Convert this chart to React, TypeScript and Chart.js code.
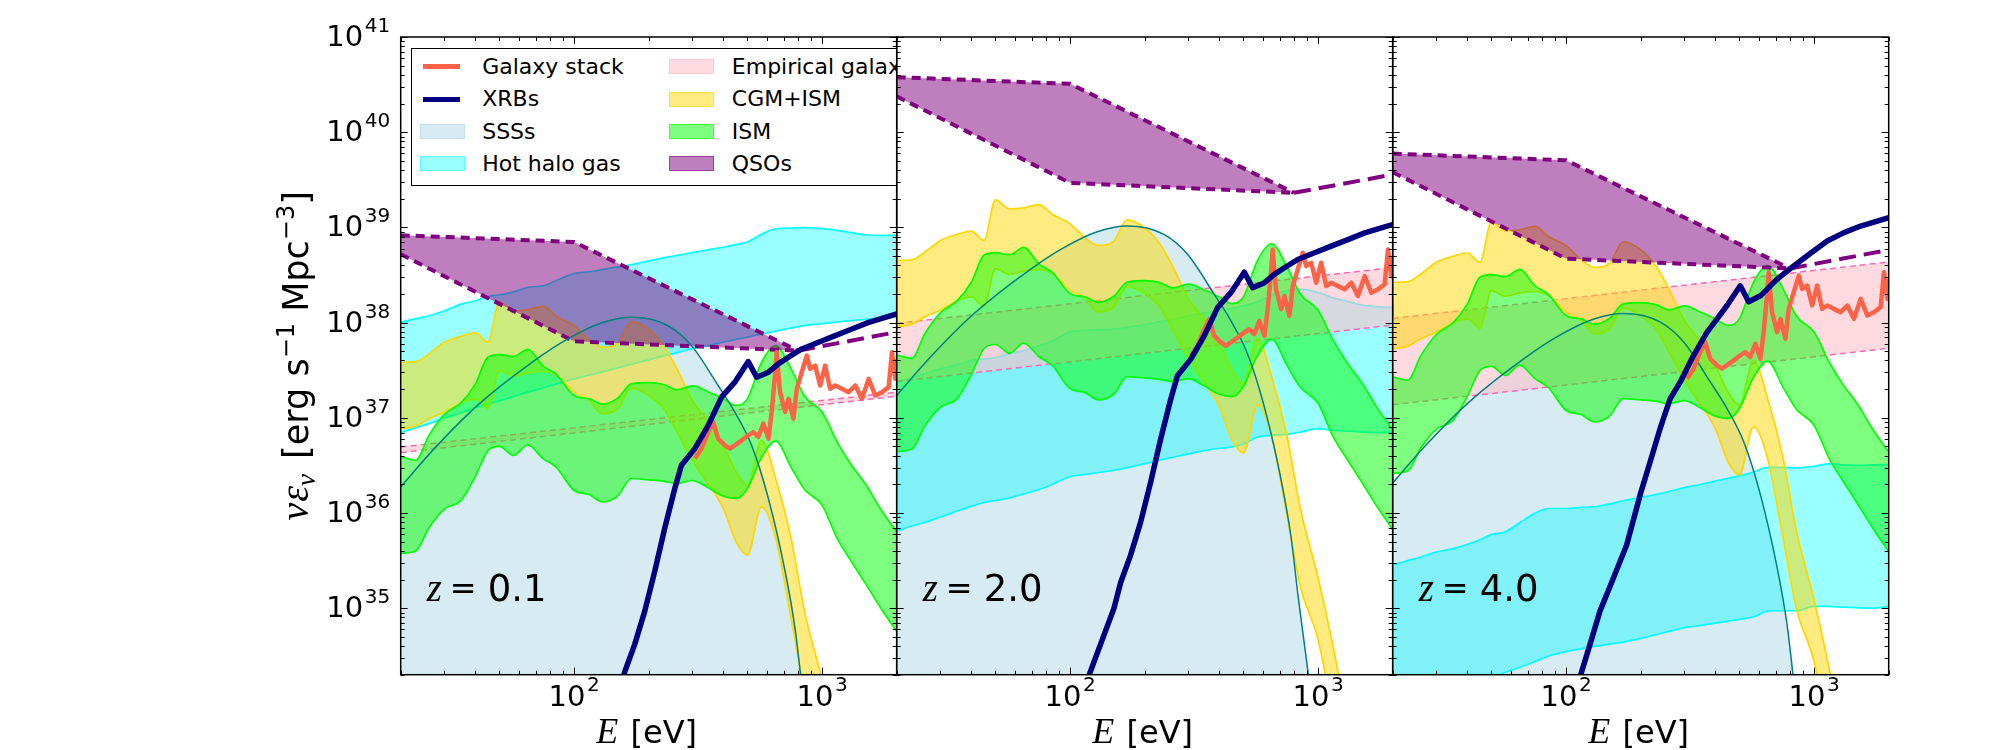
import React, { useEffect, useRef } from "react";
import { Chart, registerables } from "chart.js";

Chart.register(...registerables);

// ---------------- data (values are log10 of nu*eps_nu in erg s^-1 Mpc^-3) ----------------
const E_GRID = [20, 23, 26, 30, 35, 40, 45, 50, 57, 65, 75, 85, 100, 115, 130, 150, 170, 200, 230, 260, 300, 350, 400, 450, 500, 570, 650, 750, 850, 1000, 1150, 1300, 1500, 1750, 2000];

// Hot halo gas
const hotHi01 = [38.002, 38.041, 38.072, 38.124, 38.194, 38.229, 38.274, 38.292, 38.323, 38.369, 38.386, 38.445, 38.515, 38.533, 38.557, 38.585, 38.609, 38.648, 38.679, 38.707, 38.735, 38.767, 38.791, 38.819, 38.847, 38.927, 38.986, 38.993, 38.997, 38.986, 38.969, 38.945, 38.92, 38.917, 38.917];
const hotLo01 = [36.843, 36.896, 36.938, 36.997, 37.053, 37.105, 37.143, 37.178, 37.224, 37.269, 37.315, 37.356, 37.409, 37.447, 37.482, 37.524, 37.562, 37.608, 37.65, 37.684, 37.726, 37.761, 37.796, 37.824, 37.848, 37.88, 37.911, 37.943, 37.971, 37.988, 38.006, 38.02, 38.034, 38.051, 38.065];
const hotHi20 = [37.374, 37.423, 37.461, 37.514, 37.555, 37.601, 37.618, 37.632, 37.671, 37.705, 37.758, 37.807, 37.904, 37.918, 37.925, 37.932, 37.95, 37.977, 38.009, 38.03, 38.072, 38.1, 38.124, 38.149, 38.177, 38.219, 38.288, 38.337, 38.351, 38.316, 38.26, 38.226, 38.184, 38.166, 38.159];
const hotLo20 = [35.81, 35.863, 35.901, 35.957, 36.02, 36.072, 36.11, 36.131, 36.159, 36.201, 36.247, 36.302, 36.383, 36.404, 36.425, 36.449, 36.477, 36.519, 36.557, 36.585, 36.62, 36.658, 36.679, 36.693, 36.725, 36.798, 36.815, 36.826, 36.85, 36.885, 36.868, 36.861, 36.85, 36.843, 36.85];
const hotHi40 = [35.454, 35.5, 35.538, 35.59, 35.625, 35.671, 35.719, 35.772, 35.803, 35.897, 35.999, 36.047, 36.047, 36.058, 36.065, 36.096, 36.128, 36.163, 36.194, 36.226, 36.267, 36.302, 36.337, 36.365, 36.389, 36.431, 36.48, 36.48, 36.473, 36.491, 36.515, 36.505, 36.501, 36.505, 36.508];
const hotLo40 = [33.883, 33.943, 33.988, 34.055, 34.121, 34.177, 34.226, 34.271, 34.327, 34.379, 34.442, 34.498, 34.543, 34.575, 34.599, 34.623, 34.644, 34.683, 34.721, 34.756, 34.795, 34.819, 34.843, 34.864, 34.882, 34.91, 34.969, 34.973, 34.973, 35.018, 35.018, 35.011, 35.004, 35.0, 35.018];

// CGM+ISM
const cgmHi01 = [37.583, 37.59, 37.671, 37.793, 37.856, 37.891, 37.793, 38.219, 38.124, 38.135, 38.17, 38.065, 37.967, 37.821, 37.74, 37.786, 38.009, 37.925, 37.758, 37.514, 37.182, 36.955, 36.711, 36.431, 36.292, 36.763, 36.362, 35.733, 34.966, 34.25, 33.53, 32.8, 32, 31, 30];
const cgmLo01 = [36.885, 36.913, 36.99, 37.06, 37.157, 37.199, 37.102, 37.496, 37.437, 37.472, 37.486, 37.444, 37.269, 37.182, 37.042, 37.095, 37.311, 37.234, 37.095, 36.85, 36.554, 36.292, 36.047, 35.698, 35.559, 36.065, 35.733, 34.896, 34.15, 33.6, 32.8, 32, 31, 30, 29];
const cgmHi20 = [38.653, 38.66, 38.741, 38.863, 38.926, 38.961, 38.863, 39.289, 39.194, 39.205, 39.24, 39.135, 39.037, 38.891, 38.81, 38.856, 39.079, 38.995, 38.828, 38.584, 38.252, 38.025, 37.781, 37.501, 37.362, 37.833, 37.432, 36.803, 36.036, 35.32, 34.6, 33.87, 33.07, 32.07, 31.07];
const cgmLo20 = [37.955, 37.983, 38.06, 38.13, 38.227, 38.269, 38.172, 38.566, 38.507, 38.542, 38.556, 38.514, 38.339, 38.252, 38.112, 38.165, 38.381, 38.304, 38.165, 37.92, 37.624, 37.362, 37.117, 36.768, 36.629, 37.135, 36.803, 35.966, 35.22, 34.67, 33.87, 33.07, 32.07, 31.07, 30.07];
const cgmHi40 = [38.423, 38.43, 38.511, 38.633, 38.696, 38.731, 38.633, 39.059, 38.964, 38.975, 39.01, 38.905, 38.807, 38.661, 38.58, 38.626, 38.849, 38.765, 38.598, 38.354, 38.022, 37.795, 37.551, 37.271, 37.132, 37.603, 37.202, 36.573, 35.806, 35.09, 34.37, 33.64, 32.84, 31.84, 30.84];
const cgmLo40 = [37.725, 37.753, 37.83, 37.9, 37.997, 38.039, 37.942, 38.336, 38.277, 38.312, 38.326, 38.284, 38.109, 38.022, 37.882, 37.935, 38.151, 38.074, 37.935, 37.69, 37.394, 37.132, 36.887, 36.538, 36.399, 36.905, 36.573, 35.736, 34.99, 34.44, 33.64, 32.84, 31.84, 30.84, 29.84];

// ISM
const ismHi01 = [36.589, 36.554, 36.815, 37.035, 37.157, 37.356, 37.639, 37.664, 37.643, 37.719, 37.545, 37.454, 37.234, 37.199, 37.143, 37.206, 37.356, 37.37, 37.349, 37.294, 37.335, 37.269, 37.199, 37.13, 37.199, 37.583, 37.758, 37.514, 37.227, 37.06, 36.746, 36.519, 36.299, 36.013, 35.803];
const ismLo01 = [35.576, 35.601, 35.845, 36.041, 36.131, 36.386, 36.658, 36.7, 36.606, 36.714, 36.571, 36.477, 36.236, 36.194, 36.117, 36.18, 36.362, 36.348, 36.334, 36.309, 36.341, 36.26, 36.177, 36.152, 36.257, 36.585, 36.756, 36.48, 36.247, 36.082, 35.733, 35.507, 35.255, 34.976, 34.756];
const ismHi20 = [37.659, 37.624, 37.885, 38.105, 38.227, 38.426, 38.709, 38.734, 38.713, 38.789, 38.615, 38.524, 38.304, 38.269, 38.213, 38.276, 38.426, 38.44, 38.419, 38.364, 38.405, 38.339, 38.269, 38.2, 38.269, 38.653, 38.828, 38.584, 38.297, 38.13, 37.816, 37.589, 37.369, 37.083, 36.873];
const ismLo20 = [36.646, 36.671, 36.915, 37.111, 37.201, 37.456, 37.728, 37.77, 37.676, 37.784, 37.641, 37.547, 37.306, 37.264, 37.187, 37.25, 37.432, 37.418, 37.404, 37.379, 37.411, 37.33, 37.247, 37.222, 37.327, 37.655, 37.826, 37.55, 37.317, 37.152, 36.803, 36.577, 36.325, 36.046, 35.826];
const ismHi40 = [37.429, 37.394, 37.655, 37.875, 37.997, 38.196, 38.479, 38.504, 38.483, 38.559, 38.385, 38.294, 38.074, 38.039, 37.983, 38.046, 38.196, 38.21, 38.189, 38.134, 38.175, 38.109, 38.039, 37.97, 38.039, 38.423, 38.598, 38.354, 38.067, 37.9, 37.586, 37.359, 37.139, 36.853, 36.643];
const ismLo40 = [36.416, 36.441, 36.685, 36.881, 36.971, 37.226, 37.498, 37.54, 37.446, 37.554, 37.411, 37.317, 37.076, 37.034, 36.957, 37.02, 37.202, 37.188, 37.174, 37.149, 37.181, 37.1, 37.017, 36.992, 37.097, 37.425, 37.596, 37.32, 37.087, 36.922, 36.573, 36.347, 36.095, 35.816, 35.596];

// Empirical galaxy
const EMP_E = [20, 2000];
const empHi01 = [36.693, 37.269];
const empLo01 = [36.634, 37.227];
const empHi20 = [37.992, 38.578];
const empLo20 = [37.381, 37.974];
const empHi40 = [38.044, 38.637];
const empLo40 = [37.137, 37.73];

// QSOs
const QSO_E = [20, 100, 800];
const QSO_EXT_E = [800, 2000];
const qsoHi01 = [38.917, 38.847, 37.705];
const qsoLo01 = [38.718, 37.803, 37.705];
const qsoExt01 = [37.705, 37.9];
const qsoHi20 = [40.578, 40.508, 39.363];
const qsoLo20 = [40.376, 39.468, 39.363];
const qsoExt20 = [39.363, 39.555];
const qsoHi40 = [39.775, 39.705, 38.568];
const qsoLo40 = [39.58, 38.672, 38.568];
const qsoExt40 = [38.568, 38.763];

// SSSs
const SSS_E = [20, 27.3, 40.8, 69.2, 94.4, 128.7, 170, 239, 297.6, 381, 445, 520, 608, 710, 778, 828, 938, 1062];
const sss01 = [36.275, 36.676, 37.13, 37.6, 37.828, 37.995, 38.055, 37.967, 37.758, 37.339, 37.06, 36.71, 36.15, 35.385, 34.79, 34.2, 33.1, 31.8];
const sss20 = [37.235, 37.636, 38.09, 38.56, 38.788, 38.955, 39.015, 38.927, 38.718, 38.299, 38.02, 37.67, 37.11, 36.345, 35.75, 35.16, 34.06, 32.76];
const sss40 = [36.315, 36.716, 37.17, 37.64, 37.868, 38.035, 38.095, 38.007, 37.798, 37.379, 37.1, 36.75, 36.19, 35.425, 34.83, 34.24, 33.14, 31.84];

// XRBs
const XRB_E = [113.7, 150.3, 160, 175.5, 192.7, 211.4, 232, 254.8, 271, 307, 347.6, 393.4, 445, 504, 545, 608, 666, 732, 828, 968, 1130, 1320, 1542, 1799, 2000];
const xrb01 = [33.21, 34.058, 34.33, 34.617, 34.966, 35.384, 35.838, 36.257, 36.501, 36.676, 36.92, 37.217, 37.374, 37.59, 37.426, 37.479, 37.566, 37.636, 37.723, 37.793, 37.863, 37.932, 38.002, 38.055, 38.09];
const xrb20 = [34.15, 34.998, 35.27, 35.557, 35.906, 36.324, 36.778, 37.197, 37.441, 37.616, 37.86, 38.157, 38.314, 38.53, 38.366, 38.419, 38.506, 38.576, 38.663, 38.733, 38.803, 38.872, 38.942, 38.995, 39.03];
const XRB_E40 = [106.9, 115.5, 124.8, 136.9, 155.1, 175.5, 198.8, 218.2, 239.4, 262.8, 288.4, 326.6, 369.8, 405.8, 445, 504, 545, 608, 710, 828, 968, 1130, 1320, 1542, 2000];
const xrb40 = [34.023, 34.33, 34.617, 34.966, 35.315, 35.664, 36.187, 36.536, 36.885, 37.199, 37.374, 37.653, 37.897, 38.037, 38.177, 38.386, 38.219, 38.281, 38.456, 38.595, 38.728, 38.857, 38.945, 39.014, 39.102];

// Galaxy stack
const STACK_E = [307, 326.6, 347.6, 364, 381, 405.8, 425, 445, 474, 504, 528, 553, 580, 608, 626.6, 646, 656, 677, 710, 732, 766.6, 790.8, 828, 868, 895, 938, 982.6, 1029, 1078, 1130, 1202, 1279, 1362, 1448, 1542, 1639, 1744, 1856, 1914, 1975, 2000];
const stack01 = [36.571, 36.676, 36.85, 36.955, 36.781, 36.711, 36.676, 36.711, 36.763, 36.816, 36.85, 36.798, 36.938, 36.781, 37.06, 37.444, 37.688, 37.269, 37.06, 37.199, 36.99, 37.304, 37.479, 37.653, 37.514, 37.548, 37.339, 37.548, 37.304, 37.339, 37.304, 37.269, 37.339, 37.199, 37.409, 37.234, 37.269, 37.322, 37.688, 37.409, 37.618];
const stack20 = [37.651, 37.756, 37.93, 38.035, 37.861, 37.791, 37.756, 37.791, 37.843, 37.896, 37.93, 37.878, 38.018, 37.861, 38.14, 38.524, 38.768, 38.349, 38.14, 38.279, 38.07, 38.384, 38.559, 38.733, 38.594, 38.628, 38.419, 38.628, 38.384, 38.419, 38.384, 38.349, 38.419, 38.279, 38.489, 38.314, 38.349, 38.402, 38.768, 38.489, 38.698];
const stack40 = [37.411, 37.516, 37.69, 37.795, 37.621, 37.551, 37.516, 37.551, 37.603, 37.656, 37.69, 37.638, 37.778, 37.621, 37.9, 38.284, 38.528, 38.109, 37.9, 38.039, 37.83, 38.144, 38.319, 38.493, 38.354, 38.388, 38.179, 38.388, 38.144, 38.179, 38.144, 38.109, 38.179, 38.039, 38.249, 38.074, 38.109, 38.162, 38.528, 38.249, 38.458];

const X_TICKS = [100, 1000];
const Y_TICK_EXPS = [35, 36, 37, 38, 39, 40, 41];
const Z_LABELS = ["0.1", "2.0", "4.0"];
const LEGEND_ROWS = [
  ["Galaxy stack", "Empirical galaxy"],
  ["XRBs", "CGM+ISM"],
  ["SSSs", "ISM"],
  ["Hot halo gas", "QSOs"],
];

// ---------------- styling / layout ----------------
const C = {
  stack: "#ff6347",
  xrb: "#000080",
  sssFill: "rgba(173,216,230,0.5)",
  sssLine: "#008080",
  hotFill: "rgba(0,255,255,0.4)",
  hotLine: "#00ffff",
  empFill: "rgba(255,192,203,0.6)",
  empLine: "#ff69b4",
  cgmFill: "rgba(255,215,0,0.5)",
  cgmLine: "#ffd700",
  ismFill: "rgba(0,255,0,0.5)",
  ismLine: "#00ff00",
  qsoFill: "rgba(128,0,128,0.5)",
  qsoLine: "#800080",
};

const TOP = 37;
const BOTTOM = 674.7;
const PANEL_EDGES = [400.7, 896.7, 1392.7, 1888.7];
const SANS = '"DejaVu Sans", sans-serif';
const MATH = '"Liberation Serif", "DejaVu Serif", serif';

const PANELS = [
  { z: Z_LABELS[0], hotHi: hotHi01, hotLo: hotLo01, cgmHi: cgmHi01, cgmLo: cgmLo01, ismHi: ismHi01, ismLo: ismLo01, empHi: empHi01, empLo: empLo01, qsoHi: qsoHi01, qsoLo: qsoLo01, qsoExt: qsoExt01, sss: sss01, xrbE: XRB_E, xrb: xrb01, stack: stack01 },
  { z: Z_LABELS[1], hotHi: hotHi20, hotLo: hotLo20, cgmHi: cgmHi20, cgmLo: cgmLo20, ismHi: ismHi20, ismLo: ismLo20, empHi: empHi20, empLo: empLo20, qsoHi: qsoHi20, qsoLo: qsoLo20, qsoExt: qsoExt20, sss: sss20, xrbE: XRB_E, xrb: xrb20, stack: stack20 },
  { z: Z_LABELS[2], hotHi: hotHi40, hotLo: hotLo40, cgmHi: cgmHi40, cgmLo: cgmLo40, ismHi: ismHi40, ismLo: ismLo40, empHi: empHi40, empLo: empLo40, qsoHi: qsoHi40, qsoLo: qsoLo40, qsoExt: qsoExt40, sss: sss40, xrbE: XRB_E40, xrb: xrb40, stack: stack40 },
];

const pts = (E: number[], L: number[]) => E.map((e, i) => ({ x: e, y: Math.pow(10, L[i]) }));

type Seg = { t: string; f: string; dy?: number; gap?: number };

function drawSegs(ctx: CanvasRenderingContext2D, segs: Seg[], x: number, y: number, align: "left" | "center" | "right") {
  const widths = segs.map((s) => {
    ctx.font = s.f;
    return ctx.measureText(s.t).width;
  });
  const total = widths.reduce((a, b) => a + b, 0) + segs.reduce((a, s) => a + (s.gap || 0), 0);
  let cx = align === "left" ? x : align === "center" ? x - total / 2 : x - total;
  ctx.textAlign = "left";
  ctx.textBaseline = "alphabetic";
  segs.forEach((s, i) => {
    cx += s.gap || 0;
    ctx.font = s.f;
    ctx.fillText(s.t, cx, y + (s.dy || 0));
    cx += widths[i];
  });
  return total;
}

function makeDeco(panelIndex: number, zLabel: string) {
  return {
    id: "deco" + panelIndex,
    afterDraw(chart: any) {
      const ctx: CanvasRenderingContext2D = chart.ctx;
      const a = chart.chartArea;
      const xs = chart.scales.x;
      const ys = chart.scales.y;
      ctx.save();
      ctx.fillStyle = "#000";
      ctx.strokeStyle = "#000";
      // ticks (inward, all four sides)
      ctx.lineWidth = 1;
      ctx.beginPath();
      for (let n = 34; n <= 41; n++) {
        for (let k = 1; k <= 9; k++) {
          const v = k * Math.pow(10, n);
          if (v < ys.min * 0.999 || v > ys.max * 1.001) continue;
          const py = Math.round(ys.getPixelForValue(v)) + 0.5;
          const len = k === 1 ? 7 : 4;
          ctx.moveTo(a.left, py);
          ctx.lineTo(a.left + len, py);
          ctx.moveTo(a.right, py);
          ctx.lineTo(a.right - len, py);
        }
      }
      for (let n = 1; n <= 3; n++) {
        for (let k = 1; k <= 9; k++) {
          const v = k * Math.pow(10, n);
          if (v < xs.min * 0.999 || v > xs.max * 1.001) continue;
          const px = Math.round(xs.getPixelForValue(v)) + 0.5;
          const len = k === 1 ? 7 : 4;
          ctx.moveTo(px, a.bottom);
          ctx.lineTo(px, a.bottom - len);
          ctx.moveTo(px, a.top);
          ctx.lineTo(px, a.top + len);
        }
      }
      ctx.stroke();
      // frame
      ctx.lineWidth = 1.5;
      ctx.strokeRect(a.left, a.top, a.right - a.left, a.bottom - a.top);

      // x tick labels
      X_TICKS.forEach((v) => {
        const px = xs.getPixelForValue(v);
        const exp = String(Math.round(Math.log10(v)));
        ctx.font = `29px ${SANS}`;
        const w1 = ctx.measureText("10").width;
        ctx.font = `20px ${SANS}`;
        const w2 = ctx.measureText(exp).width;
        const start = px - (w1 + 1.5 + w2) / 2;
        drawSegs(ctx, [{ t: "10", f: `29px ${SANS}` }], start, a.bottom + 31.5, "left");
        drawSegs(ctx, [{ t: exp, f: `20px ${SANS}` }], start + w1 + 1.5, a.bottom + 16.5, "left");
      });
      // x label
      drawSegs(
        ctx,
        [
          { t: "E", f: `italic 36px ${MATH}` },
          { t: " [eV]", f: `32px ${SANS}`, gap: 2 },
        ],
        (a.left + a.right) / 2 - 2,
        a.bottom + 68,
        "center"
      );
      // z label
      drawSegs(ctx, [{ t: "z", f: `italic 39px ${MATH}` }], a.left + 26, a.bottom - 74, "left");
      drawSegs(ctx, [{ t: "=", f: `32px ${SANS}` }], a.left + 49, a.bottom - 76, "left");
      drawSegs(ctx, [{ t: zLabel, f: `37px ${SANS}` }], a.left + 87, a.bottom - 74, "left");

      if (panelIndex === 0) {
        // y tick labels
        Y_TICK_EXPS.forEach((n) => {
          const py = ys.getPixelForValue(Math.pow(10, n));
          ctx.font = `20px ${SANS}`;
          const w2 = ctx.measureText(String(n)).width;
          drawSegs(ctx, [{ t: String(n), f: `20px ${SANS}` }], a.left - 10.5, py - 5, "right");
          drawSegs(ctx, [{ t: "10", f: `29px ${SANS}` }], a.left - 10.5 - w2 - 1.5, py + 9, "right");
        });
        // y label
        ctx.save();
        ctx.translate(308, (a.top + a.bottom) / 2);
        ctx.rotate(-Math.PI / 2);
        drawSegs(
          ctx,
          [
            { t: "ν", f: `italic 40px ${MATH}` },
            { t: "ε", f: `italic 40px ${MATH}`, gap: 1 },
            { t: "ν", f: `italic 27px ${MATH}`, dy: 7 },
            { t: " [erg s", f: `35px ${SANS}`, gap: 4 },
            { t: "−1", f: `24px ${SANS}`, dy: -14 },
            { t: " Mpc", f: `35px ${SANS}` },
            { t: "−3", f: `24px ${SANS}`, dy: -14 },
            { t: "]", f: `35px ${SANS}` },
          ],
          0,
          0,
          "center"
        );
        ctx.restore();
      }
      ctx.restore();
    },
  };
}

function buildDatasets(p: any) {
  const base = { pointRadius: 0, pointHoverRadius: 0, clip: 0, tension: 0 };
  const smooth = { cubicInterpolationMode: "monotone" as const };
  return [
    // 0 XRBs
    { ...base, label: "XRBs", data: pts(p.xrbE, p.xrb), borderColor: C.xrb, borderWidth: 5.5, fill: false, order: 10, borderJoinStyle: "round" as const },
    // 1 Galaxy stack
    { ...base, label: "Galaxy stack", data: pts(STACK_E, p.stack), borderColor: C.stack, borderWidth: 4.5, fill: false, order: 20, borderJoinStyle: "round" as const },
    // 2 SSS line
    { ...base, ...smooth, label: "SSS line", data: pts(SSS_E, p.sss), borderColor: C.sssLine, borderWidth: 1.5, fill: false, order: 30 },
    // 3 QSO extension
    { ...base, label: "QSO ext", data: pts(QSO_EXT_E, p.qsoExt), borderColor: C.qsoLine, borderWidth: 4, borderDash: [17, 8], fill: false, order: 49 },
    // 4,5 QSOs
    { ...base, label: "QSOs", data: pts(QSO_E, p.qsoHi), borderColor: C.qsoLine, borderWidth: 4, borderDash: [9, 6], backgroundColor: C.qsoFill, fill: "+1", order: 51 },
    { ...base, label: "QSOs lo", data: pts(QSO_E, p.qsoLo), borderColor: C.qsoLine, borderWidth: 4, borderDash: [9, 6], fill: false, order: 50 },
    // 6,7 ISM
    { ...base, ...smooth, label: "ISM", data: pts(E_GRID, p.ismHi), borderColor: C.ismLine, borderWidth: 1.7, backgroundColor: C.ismFill, fill: "+1", order: 61 },
    { ...base, ...smooth, label: "ISM lo", data: pts(E_GRID, p.ismLo), borderColor: C.ismLine, borderWidth: 1.7, fill: false, order: 60 },
    // 8,9 CGM+ISM
    { ...base, ...smooth, label: "CGM+ISM", data: pts(E_GRID, p.cgmHi), borderColor: C.cgmLine, borderWidth: 1.7, backgroundColor: C.cgmFill, fill: "+1", order: 71 },
    { ...base, ...smooth, label: "CGM+ISM lo", data: pts(E_GRID, p.cgmLo), borderColor: C.cgmLine, borderWidth: 1.7, fill: false, order: 70 },
    // 10,11 Empirical galaxy
    { ...base, label: "Empirical galaxy", data: pts(EMP_E, p.empHi), borderColor: C.empLine, borderWidth: 1.5, borderDash: [6, 4], backgroundColor: C.empFill, fill: "+1", order: 81 },
    { ...base, label: "Empirical lo", data: pts(EMP_E, p.empLo), borderColor: C.empLine, borderWidth: 1.5, borderDash: [6, 4], fill: false, order: 80 },
    // 12,13 Hot halo gas
    { ...base, ...smooth, label: "Hot halo gas", data: pts(E_GRID, p.hotHi), borderColor: C.hotLine, borderWidth: 1.7, backgroundColor: C.hotFill, fill: "+1", order: 91 },
    { ...base, ...smooth, label: "Hot halo lo", data: pts(E_GRID, p.hotLo), borderColor: C.hotLine, borderWidth: 1.7, fill: false, order: 90 },
    // 14 SSS fill
    { ...base, ...smooth, label: "SSSs", data: pts(SSS_E, p.sss), borderColor: "rgba(173,216,230,0.5)", borderWidth: 1, backgroundColor: C.sssFill, fill: "start", order: 100 },
  ];
}

function Panel({ index }: { index: number }) {
  const ref = useRef<HTMLCanvasElement>(null);
  useEffect(() => {
    const p = PANELS[index];
    const left = PANEL_EDGES[index];
    const right = PANEL_EDGES[index + 1];
    const chart = new Chart(ref.current as HTMLCanvasElement, {
      type: "line",
      data: { datasets: buildDatasets(p) as any },
      options: {
        animation: false,
        responsive: false,
        maintainAspectRatio: false,
        events: [],
        layout: { padding: { left: left, right: 2000 - right, top: TOP, bottom: 750 - BOTTOM } },
        scales: {
          x: { type: "logarithmic", min: 20, max: 2000, display: false, bounds: "data" } as any,
          y: { type: "logarithmic", min: 2e34, max: 1e41, display: false, bounds: "data" } as any,
        },
        plugins: { legend: { display: false }, tooltip: { enabled: false } },
      },
      plugins: [makeDeco(index, p.z)],
    });
    return () => chart.destroy();
  }, [index]);
  return <canvas ref={ref} width={2000} height={750} style={{ position: "absolute", left: 0, top: 0, width: 2000, height: 750 }} />;
}

function Legend() {
  const rowCenters = [17.2, 50, 82.4, 114.7];
  const handles = [
    [
      { kind: "line", color: C.stack },
      { kind: "patch", color: C.empFill },
    ],
    [
      { kind: "line", color: C.xrb },
      { kind: "patch", color: C.cgmFill },
    ],
    [
      { kind: "patch", color: C.sssFill },
      { kind: "patch", color: C.ismFill },
    ],
    [
      { kind: "patch", color: C.hotFill },
      { kind: "patch", color: C.qsoFill },
    ],
  ];
  const colX = [7.5, 256.8];
  const textX = [70.2, 319.8];
  const items: any[] = [];
  LEGEND_ROWS.forEach((row, r) => {
    row.forEach((label, c) => {
      const h = handles[r][c];
      const cy = rowCenters[r];
      if (h.kind === "line") {
        items.push(<div key={`h${r}${c}`} style={{ position: "absolute", left: colX[c] + 3.3, top: cy - 2.5, width: 37.7, height: 5, background: h.color }} />);
      } else {
        items.push(
          <div
            key={`h${r}${c}`}
            style={{ position: "absolute", left: colX[c], top: cy - 7.5, width: 45, height: 15, background: h.color, border: `1.5px solid ${h.color}`, boxSizing: "border-box" }}
          />
        );
      }
      items.push(
        <div key={`t${r}${c}`} style={{ position: "absolute", left: textX[c], top: cy - 12.6, fontSize: 22, lineHeight: "26px", whiteSpace: "nowrap", fontFamily: SANS, color: "#000" }}>
          {label}
        </div>
      );
    });
  });
  return (
    <div
      style={{
        position: "absolute",
        left: 411,
        top: 48,
        width: 896.7 - 411,
        height: 138,
        border: "1.5px solid #000",
        borderRight: "none",
        background: "#fff",
        overflow: "hidden",
        boxSizing: "border-box",
      }}
    >
      {items}
    </div>
  );
}

export default function App() {
  return (
    <div style={{ position: "absolute", left: 0, top: 0, width: 2000, height: 750, background: "#fff", overflow: "hidden" }}>
      <Panel index={0} />
      <Legend />
      <Panel index={1} />
      <Panel index={2} />
    </div>
  );
}
